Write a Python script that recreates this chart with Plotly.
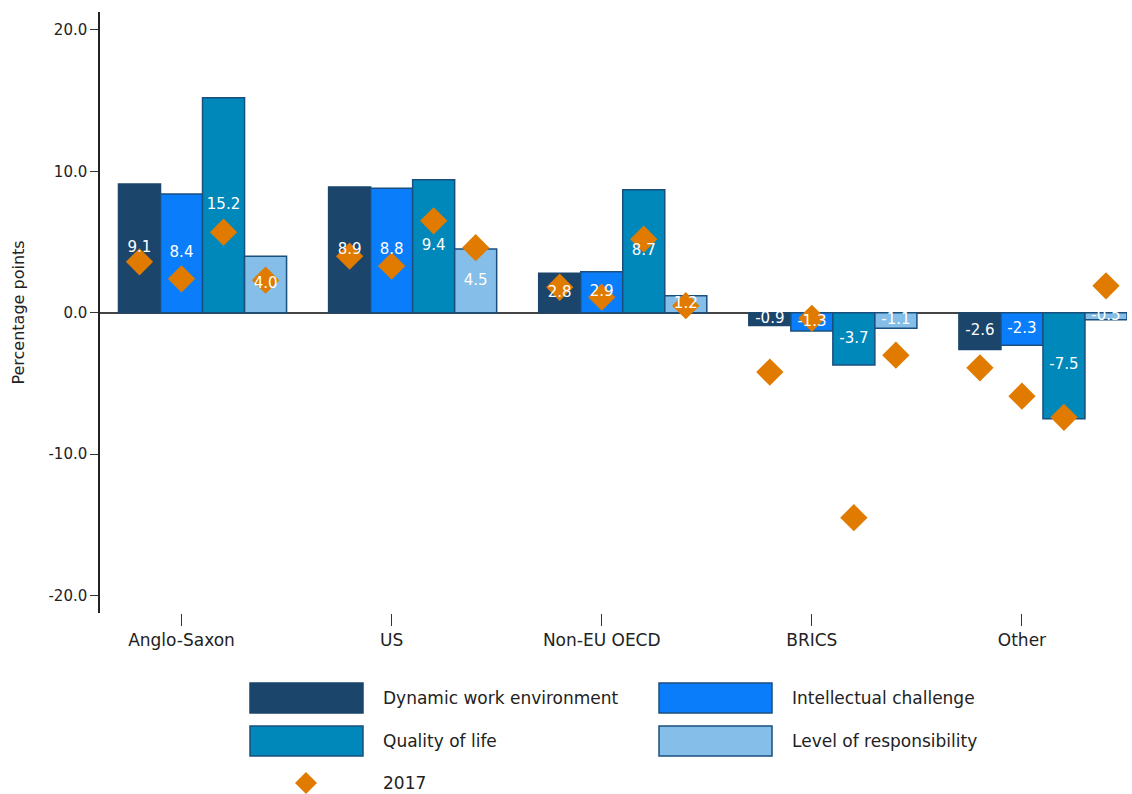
import plotly.graph_objects as go

categories = ["Anglo-Saxon", "US", "Non-EU OECD", "BRICS", "Other"]
series_names = ["Dynamic work environment", "Intellectual challenge", "Quality of life", "Level of responsibility"]
dynamic_work = [9.1, 8.9, 2.8, -0.9, -2.6]
intellectual = [8.4, 8.8, 2.9, -1.3, -2.3]
quality_life = [15.2, 9.4, 8.7, -3.7, -7.5]
responsibility = [4.0, 4.5, 1.2, -1.1, -0.5]
y2017_dynamic = [3.6, 4.0, 1.8, -4.2, -3.9]
y2017_intellectual = [2.4, 3.3, 1.1, -0.4, -5.9]
y2017_quality = [5.7, 6.5, 5.2, -14.5, -7.4]
y2017_responsibility = [2.3, 4.6, 0.5, -3.0, 1.9]
y_ticks = [-20, -10, 0, 10, 20]

series_values = [dynamic_work, intellectual, quality_life, responsibility]
series_2017 = [y2017_dynamic, y2017_intellectual, y2017_quality, y2017_responsibility]
fills = ["#1B456B", "#0A7EFA", "#0088BB", "#85BEE8"]
outlines = ["#1B456B", "#1A4F7D", "#1A4F7D", "#1A4F7D"]

FONT = "DejaVu Sans"
bar_w = 0.2
offsets = [-0.3, -0.1, 0.1, 0.3]
tick_shift = -0.1  # category labels sit half a bar left of the group centre

fig = go.Figure()
for j, (name, vals) in enumerate(zip(series_names, series_values)):
    xs = [i + offsets[j] for i in range(len(categories))]
    fig.add_trace(go.Bar(
        x=xs, y=vals, width=bar_w, name=name,
        marker=dict(color=fills[j], line=dict(color=outlines[j], width=1.5)),
        showlegend=False, cliponaxis=False,
    ))

dx, dy = [], []
for j, vals in enumerate(series_2017):
    for i, v in enumerate(vals):
        dx.append(i + offsets[j])
        dy.append(v)
fig.add_trace(go.Scatter(
    x=dx, y=dy, mode="markers", name="2017",
    marker=dict(symbol="diamond", size=21, color="#E07B00"),
    showlegend=False, cliponaxis=False,
))

# value labels, centred in each bar, drawn above the diamonds
lx, ly, lt = [], [], []
for j, vals in enumerate(series_values):
    for i, v in enumerate(vals):
        lx.append(i + offsets[j])
        ly.append(v / 2)
        lt.append(f"{v:.1f}")
fig.add_trace(go.Scatter(
    x=lx, y=ly, text=lt, mode="text", textposition="middle center",
    textfont=dict(color="white", size=15, family=FONT),
    showlegend=False, cliponaxis=False, hoverinfo="skip",
))

# custom legend
L, R, T, B = 100, 1127, 12, 613
W, H = float(R - L), float(B - T)
def px_x(p):
    return (p - L) / W
def px_y(p):
    return (B - p) / H

shapes = []
annotations = []
legend_items = [
    (0, 250, 683, 381),
    (1, 659, 683, 790),
    (2, 250, 726, 381),
    (3, 659, 726, 790),
]
for j, x0, y0, tx in legend_items:
    shapes.append(dict(type="rect", xref="paper", yref="paper",
                       x0=px_x(x0), x1=px_x(x0 + 113), y0=px_y(y0), y1=px_y(y0 + 30),
                       fillcolor=fills[j], line=dict(color=outlines[j], width=1.5)))
    annotations.append(dict(xref="paper", yref="paper", x=px_x(tx), y=px_y(y0 + 15),
                            text=series_names[j], showarrow=False, xanchor="left", yanchor="middle",
                            font=dict(size=17, color="#222", family=FONT)))
cx, cy, r = 306, 783, 11
path = (f"M {px_x(cx)} {px_y(cy - r)} L {px_x(cx + r)} {px_y(cy)} "
        f"L {px_x(cx)} {px_y(cy + r)} L {px_x(cx - r)} {px_y(cy)} Z")
shapes.append(dict(type="path", xref="paper", yref="paper", path=path,
                   fillcolor="#E07B00", line=dict(width=0)))
annotations.append(dict(xref="paper", yref="paper", x=px_x(381), y=px_y(783),
                        text="2017", showarrow=False, xanchor="left", yanchor="middle",
                        font=dict(size=17, color="#222", family=FONT)))

fig.update_layout(
    width=1132, height=794,
    margin=dict(l=L, r=1132 - R, t=T, b=794 - B, autoexpand=False),
    plot_bgcolor="white", paper_bgcolor="white",
    barmode="overlay",
    font=dict(family=FONT, size=15, color="#333"),
    shapes=shapes, annotations=annotations,
    xaxis=dict(range=[-0.488, 4.4], tickmode="array",
               tickvals=[i + tick_shift for i in range(len(categories))],
               ticktext=categories, showgrid=False, zeroline=False, showline=False,
               ticks="outside", ticklen=12, tickcolor="#333", tickwidth=1.2, automargin=False,
               tickfont=dict(size=17, color="#222", family=FONT)),
    yaxis=dict(range=[-21.24, 21.27], tickmode="array", tickvals=y_ticks,
               ticktext=[f"{v:.1f}" for v in y_ticks], automargin=False,
               showgrid=False, zeroline=True, zerolinecolor="#444", zerolinewidth=1.5,
               showline=True, linecolor="#222", linewidth=1.5,
               ticks="outside", ticklen=8, tickcolor="#333",
               tickfont=dict(size=15, color="#222", family=FONT),
               title=dict(text="Percentage points", font=dict(size=16, color="#222", family=FONT), standoff=20)),
)

fig.write_html("out.html", config={"displayModeBar": False},
               post_script="document.body.style.margin='0px';document.body.style.padding='0px';")
